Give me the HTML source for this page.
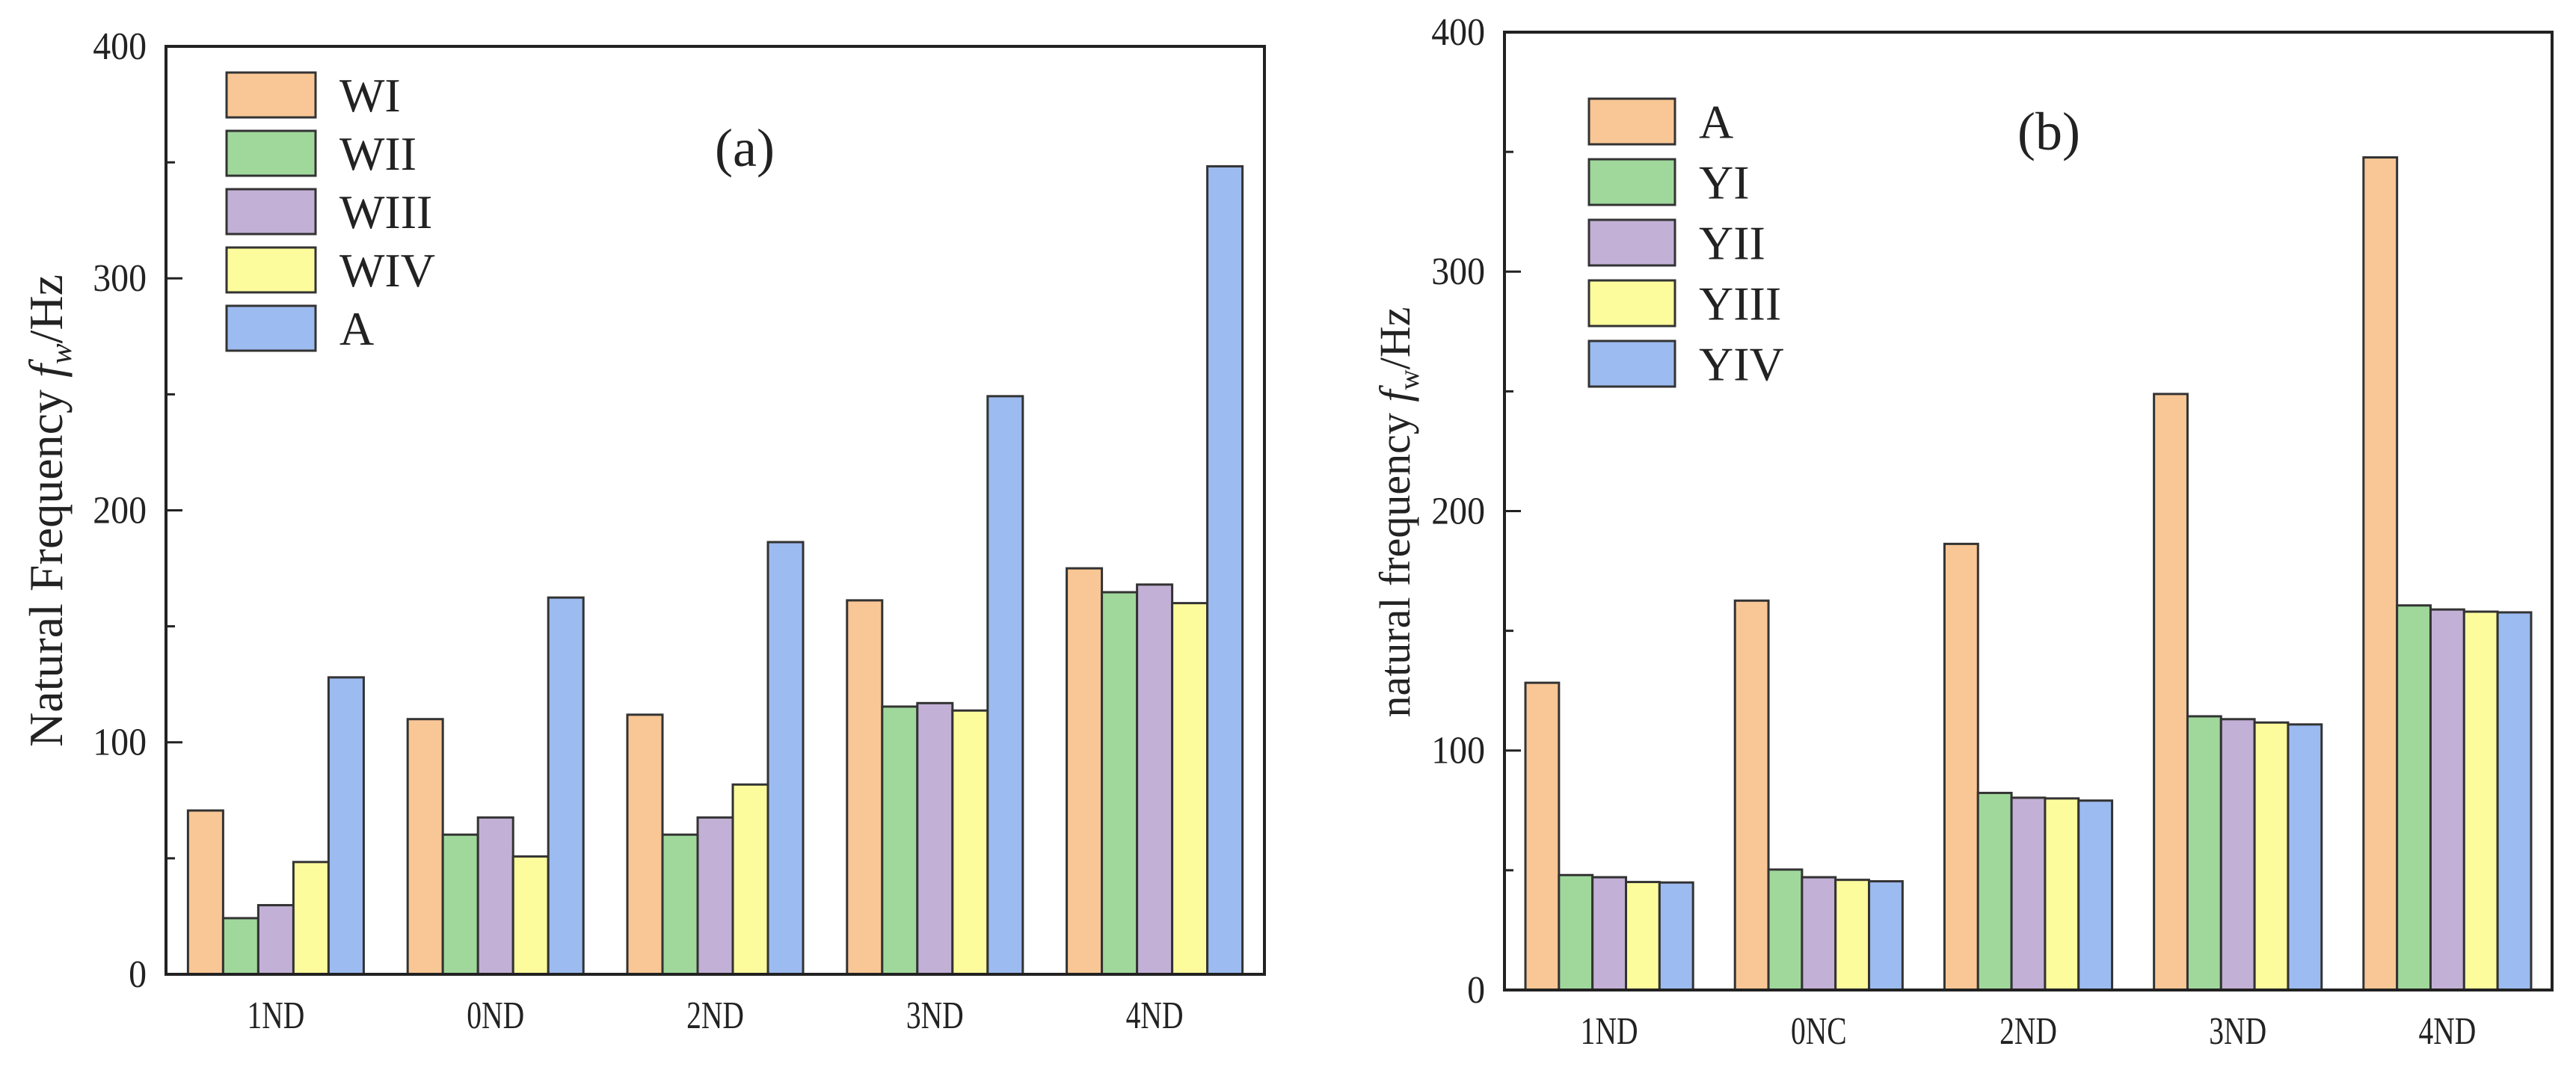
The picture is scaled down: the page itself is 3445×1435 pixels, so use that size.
<!DOCTYPE html>
<html><head><meta charset="utf-8"><style>
html,body{margin:0;padding:0;background:#fff;}
svg{display:block;}
text{font-family:"Liberation Serif",serif;fill:#222;}
</style></head>
<body>
<svg id="chart" width="3445" height="1435" viewBox="0 0 3445 1435" xmlns="http://www.w3.org/2000/svg"></svg>
<script>
const catsA = ["1ND","0ND","2ND","3ND","4ND"];
const seriesNamesA = ["WI","WII","WIII","WIV","A"];
const wI   = [70.6,110,111.9,161.2,175];
const wII  = [24.2,60.2,60.2,115.4,164.7];
const wIII = [29.8,67.6,67.6,116.9,168];
const wIV  = [48.4,50.8,81.8,113.7,160];
const aA   = [128,162.4,186.3,249.2,348.3];

const catsB = ["1ND","0NC","2ND","3ND","4ND"];
const seriesNamesB = ["A","YI","YII","YIII","YIV"];
const aB   = [128.3,162.6,186.3,248.9,347.7];
const yI   = [48,50.3,82.3,114.3,160.6];
const yII  = [47.1,47.1,80.3,113.1,158.9];
const yIII = [45.1,46,80,111.7,158];
const yIV  = [44.9,45.4,79.1,110.9,157.7];

const yTicks = [0,100,200,300,400];

const NS="http://www.w3.org/2000/svg";
const svg=document.getElementById('chart');
function mk(tag,attrs,parent){const e=document.createElementNS(NS,tag);for(const k in attrs)e.setAttribute(k,attrs[k]);(parent||svg).appendChild(e);return e;}

const colA=["#F9C795","#A0D89C","#C3B0D6","#FDFC9C","#9CBBF0"];
const colB=["#F9C795","#A0D89C","#C3B0D6","#FDFC9C","#9CBBF0"];

function drawPanel(cfg){
  const g=mk('g',{});
  
  
  const {x0,x1,y0,y1}=cfg;
  const yS=v=>y0-(v/400)*(y0-y1);
  const period=(x1-x0)/cfg.cats.length;
  const bw=period*0.8/cfg.series.length;
  cfg.series.forEach((ser,si)=>{
    ser.forEach((v,ci)=>{
      const x=x0+period*ci+period*0.1+bw*si;
      const r=mk('rect',{x:x,y:yS(v),width:bw,height:y0-yS(v),fill:cfg.colors[si],stroke:'#333',"stroke-width":3},g);
      
      
    });
  });
  const fr=mk('rect',{x:x0,y:y1,width:x1-x0,height:y0-y1,fill:'none',stroke:'#222',"stroke-width":4},g);
  
  
  for(let v=0;v<=400;v+=50){
    const major=v%100===0;
    const t=mk('line',{x1:x0,x2:x0+(major?22:12),y1:yS(v),y2:yS(v),stroke:'#222',"stroke-width":3},g);
    
    
  }
  yTicks.forEach(v=>{
    const t=mk('text',{x:x0-26,y:yS(v)+17,"text-anchor":"end","font-size":52,transform:`translate(${x0-26},0) scale(0.92,1) translate(${-(x0-26)},0)`},g);
    t.textContent=v;
    
    
  });
  cfg.cats.forEach((c,ci)=>{
    const cx=x0+period*(ci+0.5);
    const t=mk('text',{x:cx,y:y0+72,"text-anchor":"middle","font-size":52,transform:`translate(${cx},0) scale(0.76,1) translate(${-cx},0)`},g);
    t.textContent=c;
    
    
  });
  cfg.names.forEach((n,i)=>{
    const ly=cfg.ly+i*cfg.lstep;
    const r=mk('rect',{x:cfg.lx,y:ly,width:cfg.lw,height:cfg.lh,fill:cfg.colors[i],stroke:'#333',"stroke-width":3},g);
    
    
    const t=mk('text',{x:cfg.lx+cfg.lw+32,y:ly+cfg.lh/2+22,"font-size":64},g);
    t.textContent=n;
    
    
  });
  const pl=mk('text',{x:cfg.px,y:cfg.py,"text-anchor":"middle","font-size":72},g);
  pl.textContent=cfg.plabel;
  
  
  const yt=mk('text',{x:0,y:0,"text-anchor":"middle","font-size":cfg.tfs,transform:`translate(${cfg.tx},${cfg.ty}) rotate(-90)`},g);
  
  
  const s1=mk('tspan',{},yt); s1.textContent=cfg.title+' ';
  const s2=mk('tspan',{"font-style":"italic"},yt); s2.textContent='f';
  const s3=mk('tspan',{"font-size":cfg.tfs*0.65,dy:12,"font-style":cfg.subItalic?"italic":"normal"},yt); s3.textContent='w';
  const s4=mk('tspan',{dy:-12},yt); s4.textContent='/Hz';
}

drawPanel({name:'chart-a',x0:222,x1:1691,y0:1303,y1:62,cats:catsA,series:[wI,wII,wIII,wIV,aA],names:seriesNamesA,colors:colA,
  lx:303,ly:97,lw:119,lh:60,lstep:78,px:996,py:222,plabel:'(a)',tx:83,ty:683,tfs:64,title:'Natural Frequency',subItalic:true});
drawPanel({name:'chart-b',x0:2012,x1:3413,y0:1324,y1:43,cats:catsB,series:[aB,yI,yII,yIII,yIV],names:seriesNamesB,colors:colB,
  lx:2125,ly:132,lw:115,lh:61,lstep:81,px:2740,py:200,plabel:'(b)',tx:1885,ty:685,tfs:58,title:'natural frequency',subItalic:false});
</script>
</body></html>
